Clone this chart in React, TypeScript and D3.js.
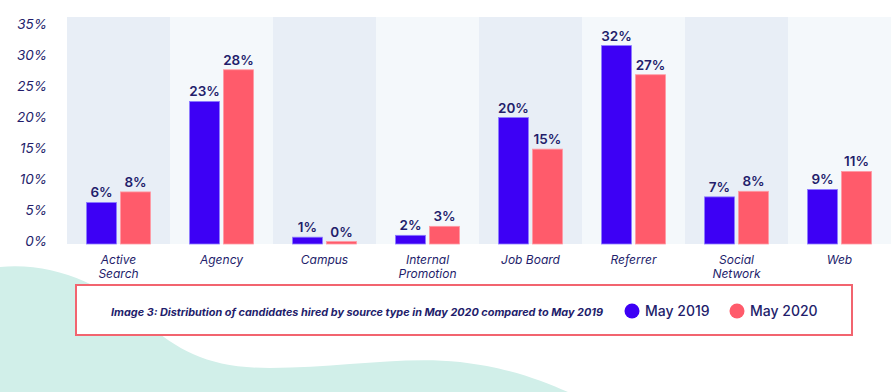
import React, { useEffect, useRef } from 'react';
import * as d3 from 'd3';

const categories = ['Active Search', 'Agency', 'Campus', 'Internal Promotion', 'Job Board', 'Referrer', 'Social Network', 'Web'];
const categoryLines = [['Active', 'Search'], ['Agency'], ['Campus'], ['Internal', 'Promotion'], ['Job Board'], ['Referrer'], ['Social', 'Network'], ['Web']];
const seriesNames = ['May 2019', 'May 2020'];
const may2019 = [6.7, 23.0, 1.1, 1.4, 20.4, 32.0, 7.6, 8.8];
const may2020 = [8.4, 28.1, 0.4, 2.85, 15.3, 27.3, 8.5, 11.7];
const labels2019 = ['6%', '23%', '1%', '2%', '20%', '32%', '7%', '9%'];
const labels2020 = ['8%', '28%', '0%', '3%', '15%', '27%', '8%', '11%'];
const yTicks = [0, 5, 10, 15, 20, 25, 30, 35];
const caption = 'Image 3: Distribution of candidates hired by source type in May 2020 compared to May 2019';

export default function App() {
    const ref = useRef<SVGSVGElement>(null);

    useEffect(() => {
        if (!ref.current) return;
        const svg = d3.select(ref.current);
        svg.selectAll('*').remove();

        const width = 896;
        const height = 392;
        const navy = '#231d6b';
        const colors = ['#3d00f5', '#ff5b6b'];
        const strokes = ['#8c7dff', '#ff9aa3'];
        const font = 'Inter, "Open Sans", sans-serif';

        svg.attr('width', width).attr('height', height);

        svg.append('rect').attr('width', width).attr('height', height).attr('fill', '#fff');

        // background wave
        svg.append('path')
            .attr('d', 'M0,267 C55,262 105,285 145,322 C180,352 210,368 270,368 C340,368 400,356 460,362 C510,368 540,380 568,392 L0,392 Z')
            .attr('fill', '#d1efe9');

        const x = d3.scaleBand().domain(categories).range([67, 891]).padding(0);
        const xs = d3.scaleBand().domain(seriesNames).range([0, 64]).paddingInner(4 / 34);
        const offset = (x.bandwidth() - 64) / 2;
        const y = d3.scaleLinear().domain([0, 35]).range([244, 27]);

        // alternating column bands
        svg.append('g').selectAll('rect')
            .data(categories)
            .enter()
            .append('rect')
            .attr('x', d => x(d)!)
            .attr('y', 17)
            .attr('width', x.bandwidth())
            .attr('height', 244 - 17)
            .attr('fill', (d, i) => i % 2 === 0 ? '#e8eef6' : '#f4f8fb');

        // y tick labels
        svg.append('g').selectAll('text')
            .data(yTicks)
            .enter()
            .append('text')
            .attr('x', 47)
            .attr('y', d => y(d) - 3)
            .attr('dy', '0.35em')
            .attr('text-anchor', 'end')
            .attr('font-family', font)
            .attr('font-style', 'italic')
            .attr('font-size', 13.5)
            .attr('fill', navy)
            .text(d => `${d}%`);

        const series = [may2019, may2020];
        const seriesLabels = [labels2019, labels2020];

        series.forEach((vals, si) => {
            const g = svg.append('g');
            g.selectAll('rect')
                .data(vals)
                .enter()
                .append('rect')
                .attr('x', (d, i) => x(categories[i])! + offset + xs(seriesNames[si])!)
                .attr('y', d => y(d))
                .attr('width', xs.bandwidth())
                .attr('height', d => y(0) - y(d))
                .attr('fill', colors[si])
                .attr('stroke', strokes[si])
                .attr('stroke-width', 0.8);

            g.selectAll('text')
                .data(vals)
                .enter()
                .append('text')
                .attr('x', (d, i) => x(categories[i])! + offset + xs(seriesNames[si])! + xs.bandwidth() / 2)
                .attr('y', d => y(d) - 5)
                .attr('text-anchor', 'middle')
                .attr('font-family', font)
                .attr('font-weight', 600)
                .attr('font-size', 13.5)
                .attr('fill', navy)
                .text((d, i) => seriesLabels[si][i]);
        });

        // category labels
        const xl = svg.append('g').selectAll('text')
            .data(categories)
            .enter()
            .append('text')
            .attr('x', d => x(d)! + x.bandwidth() / 2)
            .attr('y', 264)
            .attr('text-anchor', 'middle')
            .attr('font-family', font)
            .attr('font-style', 'italic')
            .attr('font-size', 12)
            .attr('fill', navy);
        xl.each(function (d, i) {
            const t = d3.select(this);
            categoryLines[i].forEach((line, li) => {
                t.append('tspan')
                    .attr('x', x(d)! + x.bandwidth() / 2)
                    .attr('dy', li === 0 ? 0 : 14)
                    .text(line);
            });
        });

        // caption / legend box
        svg.append('rect')
            .attr('x', 76)
            .attr('y', 285)
            .attr('width', 776)
            .attr('height', 50)
            .attr('fill', '#fff')
            .attr('stroke', '#f2646f')
            .attr('stroke-width', 2);

        svg.append('text')
            .attr('x', 111)
            .attr('y', 312)
            .attr('dy', '0.35em')
            .attr('font-family', font)
            .attr('font-style', 'italic')
            .attr('font-weight', 700)
            .attr('font-size', 10)
            .attr('textLength', 492)
            .attr('lengthAdjust', 'spacingAndGlyphs')
            .attr('fill', navy)
            .text(caption);

        const legendX = [632, 737];
        seriesNames.forEach((name, i) => {
            svg.append('circle')
                .attr('cx', legendX[i])
                .attr('cy', 311)
                .attr('r', 7.5)
                .attr('fill', colors[i]);
            svg.append('text')
                .attr('x', legendX[i] + 13)
                .attr('y', 311)
                .attr('dy', '0.35em')
                .attr('font-family', font)
                .attr('font-weight', 500)
                .attr('font-size', 14)
                .attr('fill', navy)
                .text(name);
        });
    }, []);

    return <svg ref={ref} style={{ position: 'absolute', left: 0, top: 0 }} />;
}
